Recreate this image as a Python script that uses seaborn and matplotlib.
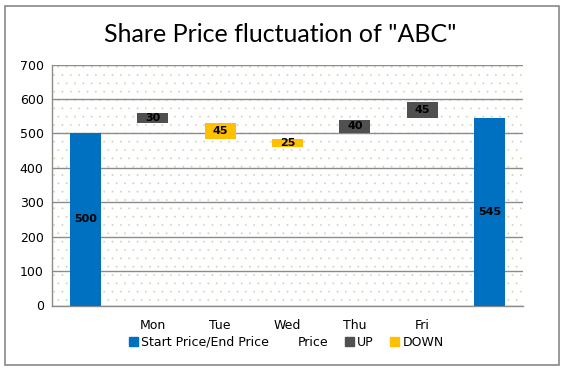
import pandas as pd
import seaborn as sns
import matplotlib.pyplot as plt
from matplotlib.patches import Patch, Rectangle

# category slots: start bar, weekdays, end bar
categories = ["Start", "Mon", "Tue", "Wed", "Thu", "Fri", "End"]
tick_labels = ["", "Mon", "Tue", "Wed", "Thu", "Fri", ""]

# start/end price (blue)
price_cats = ["Start", "End"]
price_vals = [500, 545]

# moves that went up (dark grey) - floating bars
up_cats = ["Mon", "Thu", "Fri"]
up_base = [530, 500, 545]
up_vals = [30, 40, 45]

# moves that went down (yellow) - floating bars
down_cats = ["Tue", "Wed"]
down_base = [485, 460]
down_vals = [45, 25]

BLUE = "#0070C0"
GREY = "#505050"
YELLOW = "#FFC000"

sns.set_style("white")
plt.rcParams["font.family"] = ["DejaVu Sans"]
plt.rcParams["hatch.linewidth"] = 0.1
plt.rcParams["text.color"] = "black"
plt.rcParams["xtick.labelcolor"] = "black"
plt.rcParams["ytick.labelcolor"] = "black"

fig = plt.figure(figsize=(5.67, 3.73), dpi=100)
ax = fig.add_axes([52 / 567, 1 - 305.5 / 373, 471 / 567, 241 / 373])

# dotted plot area like the excel pattern fill
ax.add_patch(Rectangle((0, 0), 1, 1, transform=ax.transAxes, facecolor="white",
                       edgecolor="#c9d3b6", hatch="..", lw=0, zorder=0))

df_price = pd.DataFrame({"cat": price_cats, "val": price_vals})
df_up = pd.DataFrame({"cat": up_cats, "val": up_vals})
df_down = pd.DataFrame({"cat": down_cats, "val": down_vals})

w = 0.46
bar_kw = dict(order=categories, width=w, errorbar=None, saturation=1,
              linewidth=0, edgecolor="none", ax=ax, zorder=3)
sns.barplot(data=df_price, x="cat", y="val", color=BLUE, **bar_kw)
sns.barplot(data=df_up, x="cat", y="val", color=GREY, bottom=up_base, **bar_kw)
sns.barplot(data=df_down, x="cat", y="val", color=YELLOW, bottom=down_base, **bar_kw)

# value labels in the middle of each bar
for c, v in zip(price_cats, price_vals):
    ax.text(categories.index(c), v / 2, str(v), ha="center", va="center",
            fontsize=8, fontweight="bold", color="black", zorder=4)
for cats, base, vals in [(up_cats, up_base, up_vals), (down_cats, down_base, down_vals)]:
    for c, b, v in zip(cats, base, vals):
        ax.text(categories.index(c), b + v / 2, str(v), ha="center", va="center",
                fontsize=8, fontweight="bold", color="black", zorder=4)

ax.set_xlim(-0.5, len(categories) - 0.5)
ax.set_ylim(0, 700)
ax.set_yticks(range(0, 701, 100))
ax.yaxis.grid(True, color="#8c8c8c", lw=1, zorder=1)
ax.set_axisbelow(True)
ax.set_xticks(range(len(categories)))
ax.set_xticklabels(tick_labels)
ax.set_xticks([i - 0.5 for i in range(len(categories) + 1)], minor=True)
ax.tick_params(axis="x", which="major", length=0, pad=10, labelsize=9)
ax.tick_params(axis="x", which="minor", length=3, color="#8c8c8c", direction="out")
ax.tick_params(axis="y", length=3, color="#8c8c8c", direction="out", labelsize=9, pad=3)
ax.set_xlabel("")
ax.set_ylabel("")
for s in ["top", "right"]:
    ax.spines[s].set_visible(False)
for s in ["left", "bottom"]:
    ax.spines[s].set_color("#8c8c8c")
    ax.spines[s].set_linewidth(1)

fig.text(280 / 567, 1 - 35 / 373, 'Share Price fluctuation of "ABC"',
         ha="center", va="center", fontsize=18, color="black",
         family=["Lato", "DejaVu Sans"])

handles = [Patch(color=BLUE), Patch(facecolor="none", edgecolor="none"),
           Patch(color=GREY), Patch(color=YELLOW)]
labels = ["Start Price/End Price", "Price", "UP", "DOWN"]
fig.legend(handles, labels, loc="center", bbox_to_anchor=(0.505, 1 - 342 / 373),
           ncol=4, frameon=False, fontsize=9, handlelength=0.7, handleheight=0.7,
           handletextpad=0.3, columnspacing=1.3, labelcolor="black")

# outer chart border
fig.patches.append(Rectangle((5 / 567, 1 - 365 / 373), 554 / 567, 359 / 373,
                             transform=fig.transFigure, fill=False,
                             edgecolor="#888888", lw=1.2))

fig.savefig("out.png", dpi=100)
